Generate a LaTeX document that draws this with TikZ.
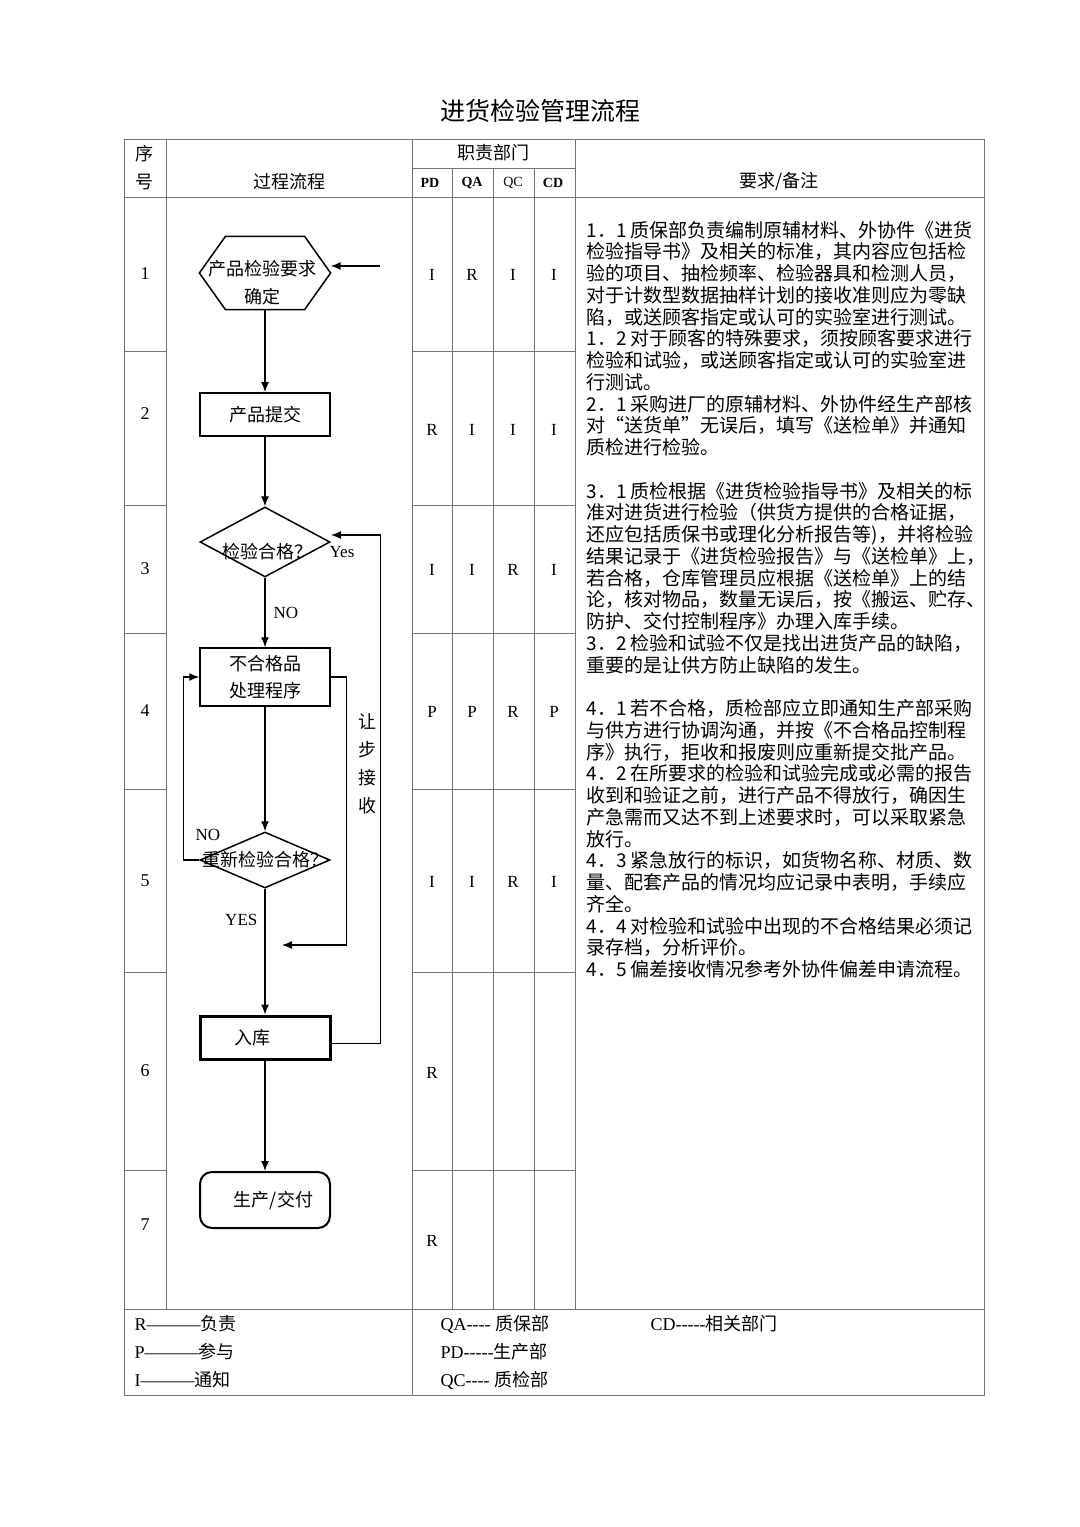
\documentclass[tikz,border=0pt]{standalone}
\usepackage{fontspec}
\setmainfont{Liberation Serif}
\newfontfamily\cjk{Noto Sans CJK SC}
\usetikzlibrary{shapes.geometric,arrows.meta}

\begin{document}
\begin{tikzpicture}[x=0.5pt, y=-0.5pt, semithick, >={Latex[length=5pt,width=4pt]},
  grid/.style={draw=black!55, line width=0.5pt},
  flow/.style={draw=black, line width=0.65pt},
  proc/.style={draw, line width=0.75pt, minimum width=65pt, inner sep=0pt, align=center, font=\cjk\fontsize{9}{13.5}\selectfont},
  test/.style={draw, line width=0.75pt, shape=diamond, minimum width=65pt, inner sep=0pt},
  txt/.style={inner sep=0pt, font=\cjk\fontsize{9}{14}\selectfont},
  hd/.style={inner sep=0pt, font=\cjk\fontsize{9}{11}\selectfont},
  dept/.style={inner sep=0pt, font=\fontsize{7}{8}\selectfont},
  num/.style={inner sep=0pt, font=\fontsize{9}{10}\selectfont},
  cell/.style={inner sep=0pt, font=\fontsize{8.5}{10}\selectfont},
  lbl/.style={inner sep=0pt, font=\fontsize{8.5}{10}\selectfont},
  leg/.style={inner sep=0pt, anchor=west, font=\fontsize{9}{10}\selectfont}]

  \useasboundingbox (0,0) rectangle (1080,1527);

  \node[inner sep=0pt, font=\cjk\fontsize{12.5}{15}\selectfont] (title) at (540,111) {进货检验管理流程};

  % table frame
  \draw[grid] (124,139) rectangle (984,1395);
  \draw[grid] (124,197) -- (984,197);
  \draw[grid] (412,168) -- (575,168);
  \draw[grid] (124,1309) -- (984,1309);
  \draw[grid] (166,139) -- (166,1309);
  \draw[grid] (412,139) -- (412,1395);
  \draw[grid] (452,168) -- (452,1309) (493,168) -- (493,1309) (534,168) -- (534,1309);
  \draw[grid] (575,139) -- (575,1309);
  \draw[grid] (124,351) -- (166,351) (124,505) -- (166,505) (124,633) -- (166,633)
              (124,789) -- (166,789) (124,972) -- (166,972) (124,1170) -- (166,1170);
  \draw[grid] (412,351) -- (575,351) (412,505) -- (575,505) (412,633) -- (575,633)
              (412,789) -- (575,789) (412,972) -- (575,972) (412,1170) -- (575,1170);

  % header
  \node[hd] (seqA) at (144,154) {序};
  \node[hd] (seqB) at (144,182) {号};
  \node[hd] (procHd) at (289,182) {过程流程};
  \node[hd] (dutyHd) at (493,153) {职责部门};
  \node[dept, font=\fontsize{7}{8}\bfseries] (pdHd) at (430,183) {PD};
  \node[dept, font=\fontsize{7}{8}\bfseries] (qaHd) at (472,183) {QA};
  \node[dept] (qcHd) at (513,183) {QC};
  \node[dept, font=\fontsize{7}{8}\bfseries] (cdHd) at (553,183) {CD};
  \node[hd] (noteHd) at (779,182) {要求/备注};

  % step numbers and duties
  \foreach \y [count=\r] in {274,414,569,711,881,1071,1225}
    \node[num] (seq\r) at (145,\y) {\r};
  \foreach \y/\a/\b/\c/\d [count=\r] in {275/I/R/I/I, 430/R/I/I/I, 570/I/I/R/I, 712/P/P/R/P, 882/I/I/R/I} {
    \node[cell] (pd\r) at (432,\y) {\a};
    \node[cell] (qa\r) at (472,\y) {\b};
    \node[cell] (qc\r) at (513,\y) {\c};
    \node[cell] (cd\r) at (554,\y) {\d};
  }
  \node[cell] (pd6) at (432,1073) {R};
  \node[cell] (pd7) at (432,1241) {R};

  % flow
  \node[minimum width=65pt, minimum height=36pt, inner sep=0pt,
        label={[txt, align=center, xshift=-1.5pt, yshift=-5pt]center:产品检验要求\\确定}] (req) at (265,273) {};
  \draw[flow, line width=0.75pt] (req.west) -- ([xshift=13pt]req.north west) -- ([xshift=-13pt]req.north east)
    -- (req.east) -- ([xshift=-13pt]req.south east) -- ([xshift=13pt]req.south west) -- cycle;
  \node[proc, minimum height=21.5pt, line width=1pt] (submit) at (265,414.5) {产品提交};
  \node[test, minimum height=35pt, label={[txt, xshift=1pt, yshift=-5pt]center:检验合格？}] (check) at (265,542) {};
  \node[proc, minimum height=29pt] (reject) at (265,677) {不合格品\\处理程序};
  \node[test, minimum height=28pt, label={[txt]center:重新检验合格？}] (recheck) at (265,860) {};
  \node[proc, minimum height=21.5pt, line width=1.5pt] (store) at (265,1037.5) {入库\hspace*{12.5pt}};
  \node[proc, minimum height=28pt, line width=1pt, rounded corners=6pt] (deliver) at (265,1200) {\hspace*{8.5pt}生产/交付};

  \coordinate (reqIn) at (380,266);
  \draw[flow, ->] (reqIn) -- ([yshift=3.5pt]req.east);
  \draw[flow, ->] (req.south) -- (submit);
  \draw[flow, ->] (submit) -- (check);
  \draw[flow, ->] (check) -- node[lbl, right=4pt] {NO} (reject);
  \draw[flow, ->] (reject) -- (recheck);
  \draw[flow, ->] (recheck) -- node[lbl, left=3.5pt, pos=0.25] {YES} (store);
  \draw[flow, ->] (store) -- (deliver);

  \draw[flow, ->] (recheck.west) -- ++(-16,0) |- (reject.west);
  \node[lbl] (noAgain) at (208,835) {NO};

  \coordinate (backEnd) at (282,945);
  \draw[flow, ->] (reject.east) -- ++(16,0) |- (backEnd);
  \node[txt, align=center] (concede) at (367,764) {让\\步\\接\\收};

  \coordinate (yesEnd) at (331,535);
  \draw[flow, ->] ([yshift=-3pt]store.east) -- ++(49,0) |- (yesEnd);
  \node[lbl] (yesLbl) at (342,552) {Yes};

  % notes
  \node[anchor=north west, inner sep=0pt, align=left, font=\cjk\fontsize{9.5}{10.875}\selectfont] (notes) at (586,220.5) {%
    1．1 质保部负责编制原辅材料、外协件《进货\\
    检验指导书》及相关的标准，其内容应包括检\\
    验的项目、抽检频率、检验器具和检测人员，\\
    对于计数型数据抽样计划的接收准则应为零缺\\
    陷，或送顾客指定或认可的实验室进行测试。\\
    1．2 对于顾客的特殊要求，须按顾客要求进行\\
    检验和试验，或送顾客指定或认可的实验室进\\
    行测试。\\
    2．1 采购进厂的原辅材料、外协件经生产部核\\
    对“送货单”无误后，填写《送检单》并通知\\
    质检进行检验。\\[10.875pt]
    3．1 质检根据《进货检验指导书》及相关的标\\
    准对进货进行检验（供货方提供的合格证据，\\
    还应包括质保书或理化分析报告等)，并将检验\\
    结果记录于《进货检验报告》与《送检单》上，\\
    若合格，仓库管理员应根据《送检单》上的结\\
    论，核对物品，数量无误后，按《搬运、贮存、\\
    防护、交付控制程序》办理入库手续。\\
    3．2 检验和试验不仅是找出进货产品的缺陷，\\
    重要的是让供方防止缺陷的发生。\\[10.875pt]
    4．1 若不合格，质检部应立即通知生产部采购\\
    与供方进行协调沟通，并按《不合格品控制程\\
    序》执行，拒收和报废则应重新提交批产品。\\
    4．2 在所要求的检验和试验完成或必需的报告\\
    收到和验证之前，进行产品不得放行，确因生\\
    产急需而又达不到上述要求时，可以采取紧急\\
    放行。\\
    4．3 紧急放行的标识，如货物名称、材质、数\\
    量、配套产品的情况均应记录中表明，手续应\\
    齐全。\\
    4．4 对检验和试验中出现的不合格结果必须记\\
    录存档，分析评价。\\
    4．5 偏差接收情况参考外协件偏差申请流程。};

  % legend
  \node[leg] (legR) at (134,1324) {R———{\cjk 负责}};
  \node[leg] (legP) at (134,1352) {P———{\cjk 参与}};
  \node[leg] (legI) at (134,1380) {I———{\cjk 通知}};
  \node[leg] (legQA) at (440,1324) {QA-{}-{}-{}- {\cjk 质保部}};
  \node[leg] (legPD) at (440,1352) {PD-{}-{}-{}-{}-{\cjk 生产部}};
  \node[leg] (legQC) at (440,1380) {QC-{}-{}-{}- {\cjk 质检部}};
  \node[leg] (legCD) at (650,1324) {CD-{}-{}-{}-{}-{\cjk 相关部门}};
\end{tikzpicture}
\end{document}
